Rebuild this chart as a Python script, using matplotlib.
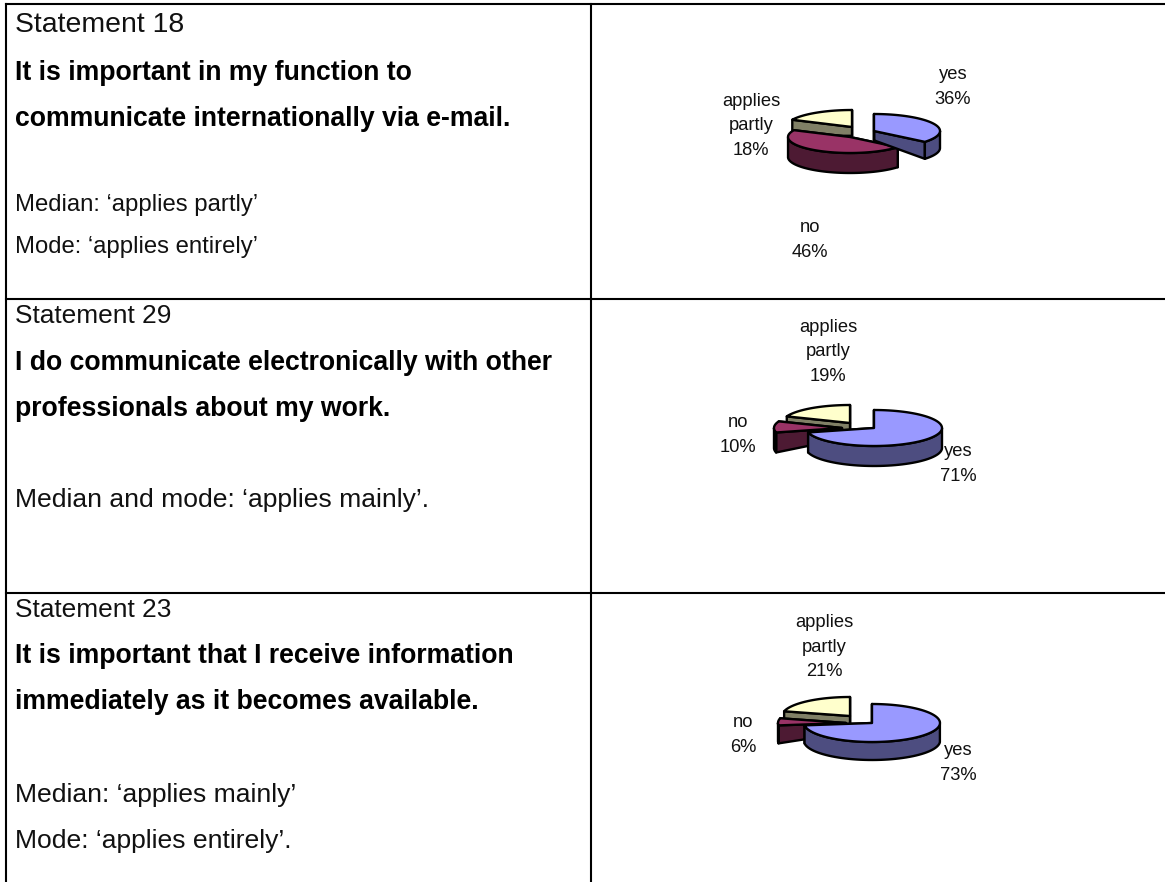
#!/usr/bin/env python3
# -*- coding: utf-8 -*-
"""Table of survey statements with a small exploded 3D pie in each row."""

import numpy as np
import matplotlib
matplotlib.use('Agg')
import matplotlib.pyplot as plt

plt.rcParams['font.family'] = ['Liberation Sans', 'DejaVu Sans']

# data
categories = ['yes', 'no', 'applies\npartly']
shares_18 = [36, 46, 18]
shares_29 = [71, 10, 19]
shares_23 = [73, 6, 21]

statements = ['Statement 18', 'Statement 29', 'Statement 23']
questions = [
    ['It is important in my function to', 'communicate internationally via e-mail.'],
    ['I do communicate electronically with other', 'professionals about my work.'],
    ['It is important that I receive information', 'immediately as it becomes available.'],
]
notes = [
    ['Median: \u2018applies partly\u2019', 'Mode: \u2018applies entirely\u2019'],
    ['Median and mode: \u2018applies mainly\u2019.'],
    ['Median: \u2018applies mainly\u2019', 'Mode: \u2018applies entirely\u2019.'],
]

# slice colours (top face, side face)
top_colors = ['#9999FF', '#993366', '#FFFFCC']
side_colors = ['#4D4D80', '#4D1A33', '#808066']

# layout in pixels, one entry per row
WIDTH, HEIGHT = 1165, 882
row_lines = [4, 299, 593]
left_x, mid_x = 6, 591
text_x = 15
title_base = [32, 323, 617]
bold_base = [[80, 126], [370, 416], [663, 709]]
note_base = [[211, 253], [507], [802, 848]]
title_size = [20.4, 18.9, 18.9]
note_size = [17.2, 19.05, 19.05]
bold_size = 19.2
# apex of each slice, in the order yes, no, applies partly
apexes = [
    [(874, 131), (850, 137), (852, 127)],
    [(874, 428), (842, 428), (850, 423)],
    [(872, 723), (846, 723), (850, 716)],
]
radii = [
    [(66, 17), (62, 16), (66, 17)],
    [(68, 18), (68, 18), (68, 18)],
    [(68, 19), (68, 19), (68, 19)],
]
depths = [
    [17, 20, 16],
    [20, 20, 20],
    [18, 18, 18],
]
# the depth shrinks towards the apex, the pie is drawn in perspective
apex_depth = 0.55
label_pos = [
    [(953, 87), (810, 240), (751, 126)],
    [(958, 464), (738, 435), (828, 352)],
    [(958, 763), (743, 735), (824, 647)],
]


def arc_points(apex, radius, start, end):
    angles = np.radians(np.linspace(start, end, 80))
    x = apex[0] + radius[0] * np.cos(angles)
    y = apex[1] - radius[1] * np.sin(angles)
    return x, y


def draw_slice(ax, apex, radius, depth, start, end, top, side, z):
    x, y = arc_points(apex, radius, start, end)
    # cut faces
    for ex, ey in [(x[0], y[0]), (x[-1], y[-1])]:
        ax.fill([apex[0], ex, ex, apex[0]],
                [apex[1], ey, ey + depth, apex[1] + depth * apex_depth],
                facecolor=side, edgecolor='black', linewidth=1.7, zorder=z,
                joinstyle='round')
    # rim, only the part that faces the viewer
    a_wrap = (np.linspace(start, end, 80) + 360) % 360
    front = a_wrap >= 180
    if front.any():
        fx, fy = x[front], y[front]
        ax.fill(np.r_[fx, fx[::-1]], np.r_[fy, fy[::-1] + depth],
                facecolor=side, edgecolor='black', linewidth=1.7, zorder=z,
                joinstyle='round')
    ax.fill(np.r_[apex[0], x], np.r_[apex[1], y], facecolor=top,
            edgecolor='black', linewidth=1.7, zorder=z + 0.5, joinstyle='round')


def draw_pie(ax, shares, apex_list, radius_list, depth_list):
    # clockwise from twelve o'clock, as the spreadsheet draws it
    stops = 90 - np.cumsum([0] + list(shares)) * 3.6
    # back slice first so that the front ones cover it
    for z, i in enumerate([2, 1, 0]):
        draw_slice(ax, apex_list[i], radius_list[i], depth_list[i],
                   stops[i + 1], stops[i], top_colors[i], side_colors[i], 3 + z)


def main():
    fig = plt.figure(figsize=(WIDTH / 100, HEIGHT / 100), dpi=100)
    ax = fig.add_axes([0, 0, 1, 1])
    ax.set_xlim(0, WIDTH)
    ax.set_ylim(HEIGHT, 0)
    ax.axis('off')

    # table grid
    for y in row_lines:
        ax.plot([left_x, WIDTH], [y, y], color='black', linewidth=1.5, zorder=1)
    for x in [left_x, mid_x]:
        ax.plot([x, x], [row_lines[0], HEIGHT], color='black', linewidth=1.5, zorder=1)

    rows = [shares_18, shares_29, shares_23]
    for r, shares in enumerate(rows):
        ax.text(text_x, title_base[r], statements[r], fontsize=title_size[r],
                va='baseline', color='#111111')
        for line, y in zip(questions[r], bold_base[r]):
            ax.text(text_x, y, line, fontsize=bold_size, fontweight='bold',
                    va='baseline', color='black')
        for line, y in zip(notes[r], note_base[r]):
            ax.text(text_x, y, line, fontsize=note_size[r], va='baseline', color='#111111')

        draw_pie(ax, shares, apexes[r], radii[r], depths[r])
        for name, share, pos in zip(categories, shares, label_pos[r]):
            ax.text(pos[0], pos[1], f'{name}\n{share}%', fontsize=13.2, ha='center',
                    va='center', linespacing=1.6, color='#111111', zorder=10)

    fig.savefig('out.png', dpi=100)
    plt.close(fig)


if __name__ == '__main__':
    main()
